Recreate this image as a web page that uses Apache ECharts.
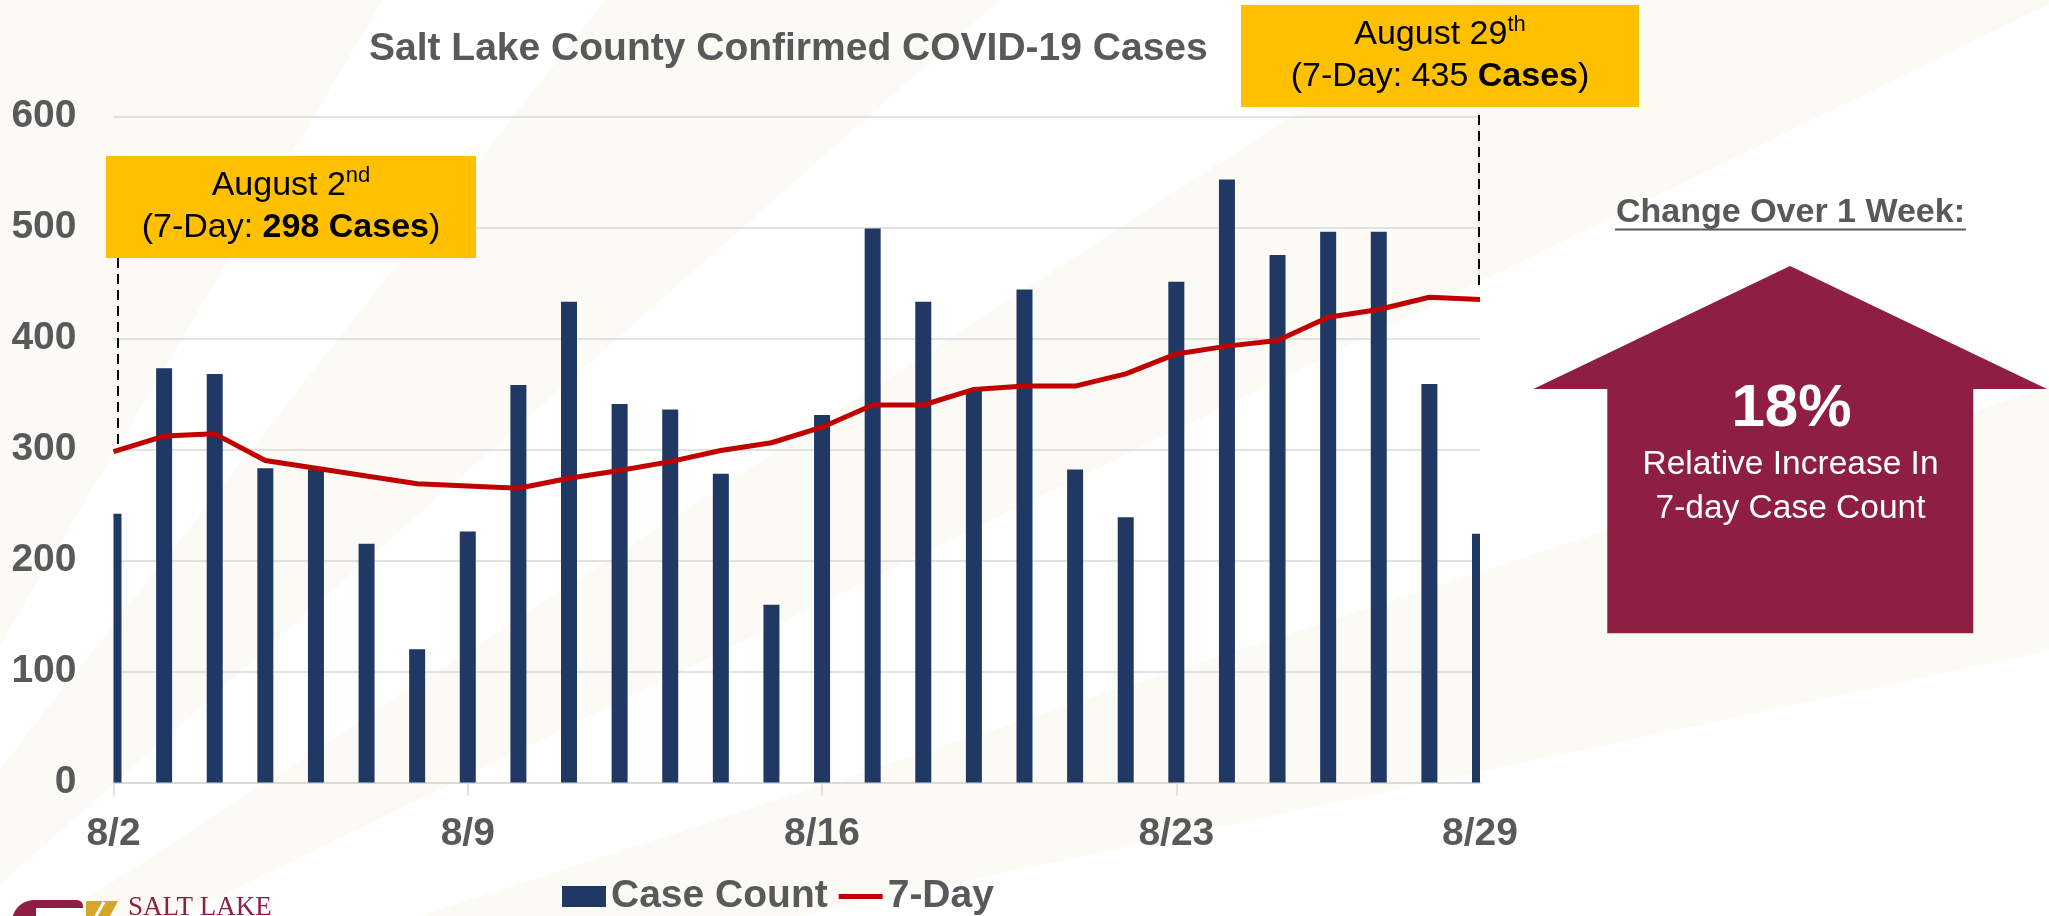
<!DOCTYPE html>
<html><head><meta charset="utf-8">
<script src="https://cdn.jsdelivr.net/npm/echarts@6/dist/echarts.min.js"></script>
<style>html,body{margin:0;padding:0;background:#fff}#c{width:2049px;height:916px}</style>
</head><body><div id="c"></div>
<script>
// ---- data ----
const categories = ['8/2','8/3','8/4','8/5','8/6','8/7','8/8','8/9','8/10','8/11','8/12','8/13','8/14','8/15',
                    '8/16','8/17','8/18','8/19','8/20','8/21','8/22','8/23','8/24','8/25','8/26','8/27','8/28','8/29'];
const caseCount = [242, 373, 368, 283, 282, 215, 120, 226, 358, 433, 341, 336, 278, 160,
                   331, 499, 433, 353, 444, 282, 239, 451, 543, 475, 496, 496, 359, 224];
const sevenDay  = [298, 312, 314, 290, 283, 276, 269, 267, 265, 274, 281, 289, 299, 306,
                   320, 340, 340, 354, 357, 357, 368, 386, 393, 398, 419, 426, 437, 435];
const xLabelIdx = [0, 7, 14, 21, 27];
const xTickIdx  = [0, 7, 14, 21];
const yMin = 0, yMax = 600, yStep = 100;

const FONT = '"Liberation Sans", Arial, Helvetica, sans-serif';
const GRAY = '#595959';
const NAVY = '#203864';
const RED = '#C00000';
const BAR_W = 16;
const chart = echarts.init(document.getElementById('c'), null, {renderer: 'canvas'});

function renderBar(params, api) {
  const x = api.value(0), v = api.value(1);
  const top = api.coord([x, v]);
  const base = api.coord([x, 0]);
  const cs = params.coordSys;
  const rect = echarts.graphic.clipRectByRect(
    {x: top[0] - BAR_W / 2, y: top[1], width: BAR_W, height: base[1] - top[1]},
    {x: cs.x, y: cs.y, width: cs.width, height: cs.height});
  return rect && {type: 'rect', shape: rect, style: {fill: NAVY}};
}

const option = {
  backgroundColor: '#FFFFFF',
  animation: false,
  title: {
    text: 'Salt Lake County Confirmed COVID-19 Cases',
    left: 364, top: 25,
    textStyle: {fontFamily: FONT, fontSize: 39, fontWeight: 'bold', color: GRAY}
  },
  grid: {left: 113.5, right: 569, top: 116.3, bottom: 133.5},
  legend: {
    left: 557, top: 872, itemWidth: 44, itemHeight: 21, itemGap: 11,
    textStyle: {fontFamily: FONT, fontSize: 39, fontWeight: 'bold', color: GRAY},
    data: [
      {name: 'Case Count', icon: 'rect', itemStyle: {color: NAVY}},
      {name: '7-Day', icon: 'path://M0,0L46,0Z M0,8L46,8L46,13L0,13Z M0,21L46,21Z',
       itemStyle: {color: RED, borderWidth: 0}}
    ]
  },
  xAxis: {
    type: 'category', data: categories, boundaryGap: false,
    axisLine: {lineStyle: {color: '#D9D9D9', width: 2}},
    axisTick: {show: true, interval: (i) => xTickIdx.includes(i), length: 13, lineStyle: {color: '#D9D9D9', width: 1.5}},
    axisLabel: {interval: (i) => xLabelIdx.includes(i), margin: 32, fontFamily: FONT, fontSize: 39, fontWeight: 'bold', color: GRAY},
    splitLine: {show: false}
  },
  yAxis: {
    type: 'value', min: yMin, max: yMax, interval: yStep,
    axisLine: {show: false}, axisTick: {show: false},
    axisLabel: {margin: 37, padding: [6, 0, 0, 0], fontFamily: FONT, fontSize: 39, fontWeight: 'bold', color: GRAY},
    splitLine: {lineStyle: {color: '#D9D9D9', width: 1.5}}
  },
  series: [
    {name: 'Case Count', type: 'custom', renderItem: renderBar,
     data: caseCount.map((v, i) => [i, v]), encode: {x: 0, y: 1},
     itemStyle: {color: NAVY}},
    {name: '7-Day', type: 'line', data: sevenDay, symbol: 'none', clip: false,
     lineStyle: {color: RED, width: 5}, itemStyle: {color: RED}}
  ]
};
chart.setOption(option);

// ---- decorations & annotations ----
const p0 = chart.convertToPixel({gridIndex: 0}, [0, sevenDay[0]]);
const pN = chart.convertToPixel({gridIndex: 0}, [sevenDay.length - 1, sevenDay[sevenDay.length - 1]]);

const F = [-300, 1150], R = 5000;
function wedge(a1, a2) {
  const r = (a) => a * Math.PI / 180;
  return {type: 'polygon', z: -100, silent: true,
    shape: {points: [F, [F[0] + R * Math.cos(r(a1)), F[1] + R * Math.sin(r(a1))],
                        [F[0] + R * Math.cos(r(a2)), F[1] + R * Math.sin(r(a2))]]},
    style: {fill: '#FCFAF4'}};
}
const CREAM_WEDGES = [[-80, -59.3], [-51.8, -41.5], [-33, -26], [-18, -12]];

const MAROON = '#8F1F42';
const richBox = {
  m: {fontFamily: FONT, fontSize: 34, color: '#000', lineHeight: 42},
  s: {fontFamily: FONT, fontSize: 22, color: '#000', verticalAlign: 'top', lineHeight: 42},
  r: {fontFamily: FONT, fontSize: 34, color: '#000', lineHeight: 42},
  b: {fontFamily: FONT, fontSize: 34, fontWeight: 'bold', color: '#000', lineHeight: 42}
};

const graphics = CREAM_WEDGES.map(w => wedge(w[0], w[1])).concat([
  // annotation 1
  {type: 'rect', z: 100, shape: {x: 106, y: 156, width: 370, height: 102}, style: {fill: '#FFC000'}},
  {type: 'text', z: 101, x: 291, y: 207, style: {
    text: '{m|August 2}{s|nd}\n{r|(7-Day: }{b|298 Cases}{r|)}',
    rich: richBox, align: 'center', verticalAlign: 'middle'}},
  {type: 'line', z: 100, shape: {x1: p0[0] + 4.5, y1: 258, x2: p0[0] + 4.5, y2: p0[1] - 7},
   style: {stroke: '#000', lineWidth: 2, lineDash: [10, 6]}},
  // annotation 2
  {type: 'rect', z: 100, shape: {x: 1241, y: 5, width: 398, height: 102}, style: {fill: '#FFC000'}},
  {type: 'text', z: 101, x: 1440, y: 56, style: {
    text: '{m|August 29}{s|th}\n{r|(7-Day: 435 }{b|Cases}{r|)}',
    rich: richBox, align: 'center', verticalAlign: 'middle'}},
  {type: 'line', z: 100, shape: {x1: pN[0] - 1, y1: 115, x2: pN[0] - 1, y2: pN[1] - 9},
   style: {stroke: '#000', lineWidth: 2, lineDash: [10, 6]}},
  // right panel
  {type: 'text', z: 100, x: 1790.5, y: 213, style: {
    text: 'Change Over 1 Week:', fontFamily: FONT, fontSize: 34, fontWeight: 'bold', fill: GRAY,
    align: 'center', verticalAlign: 'middle'}},
  {type: 'line', z: 100, shape: {x1: 1615, y1: 229.5, x2: 1966, y2: 229.5}, style: {stroke: GRAY, lineWidth: 2}},
  {type: 'polygon', z: 100, shape: {points: [[1790, 266], [2047, 389], [1973.3, 389], [1973.3, 633.3],
                                              [1607.3, 633.3], [1607.3, 389], [1533.3, 389]]},
   style: {fill: MAROON}},
  {type: 'text', z: 101, x: 1791.5, y: 409, style: {
    text: '18%', fontFamily: FONT, fontSize: 60, fontWeight: 'bold', fill: '#FFFFFF',
    align: 'center', verticalAlign: 'middle'}},
  {type: 'text', z: 101, x: 1790.5, y: 487, style: {
    text: 'Relative Increase In\n7-day Case Count', fontFamily: FONT, fontSize: 33.5, lineHeight: 43.7,
    fill: '#FFFFFF', align: 'center', verticalAlign: 'middle'}},
  // logo (cropped at the bottom edge)
  {type: 'rect', z: 100, shape: {x: 12, y: 900, width: 71, height: 30, r: [22, 6, 0, 0]}, style: {fill: MAROON}},
  {type: 'rect', z: 101, shape: {x: 36, y: 908, width: 47, height: 20}, style: {fill: '#FFFFFF'}},
  {type: 'polygon', z: 100, shape: {points: [[86, 901], [118, 901], [110, 916], [86, 916]]}, style: {fill: '#D4A72C'}},
  {type: 'line', z: 101, shape: {x1: 104, y1: 902, x2: 96, y2: 916}, style: {stroke: '#FFFFFF', lineWidth: 3}},
  {type: 'text', z: 100, x: 128, y: 894, style: {
    text: 'SALT LAKE', fontFamily: '"Liberation Serif", "DejaVu Serif", serif', fontSize: 27,
    fill: MAROON, align: 'left', verticalAlign: 'top'}}
]);
chart.setOption({graphic: graphics});
</script>
</body></html>
